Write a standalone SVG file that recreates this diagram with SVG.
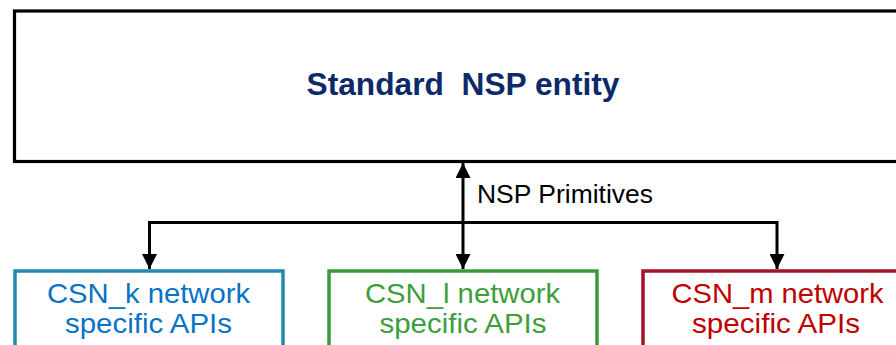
<svg xmlns="http://www.w3.org/2000/svg" width="896" height="345" viewBox="0 0 896 345">
<defs>
<style>
.lbl{font-family:"Liberation Sans",Arial,sans-serif;text-anchor:middle}
.conn{stroke:#000;stroke-width:3;fill:none}
</style>
<marker id="ah" viewBox="0 0 10 10" refX="10" refY="5" markerWidth="5" markerHeight="5" markerUnits="strokeWidth" orient="auto-start-reverse">
<path d="M0,0 L10,5 L0,10 z" fill="#000"/>
</marker>
</defs>
<rect width="896" height="345" fill="#fff"/>
<g id="nsp-entity">
<rect x="14.5" y="11" width="900" height="150.5" fill="#fff" stroke="#000" stroke-width="3.2"/>
<text class="lbl" x="463" y="95" font-size="30.5" font-weight="bold" fill="#0c2a6a" xml:space="preserve" textLength="313" lengthAdjust="spacingAndGlyphs">Standard  NSP entity</text>
</g>
<g id="connectors">
<line class="conn" x1="463" y1="163" x2="463" y2="269" marker-start="url(#ah)" marker-end="url(#ah)"/>
<polyline class="conn" points="149.5,269 149.5,222.5 777,222.5 777,269" marker-end="url(#ah)"/>
<line class="conn" x1="149.5" y1="222.5" x2="149.5" y2="269" marker-end="url(#ah)"/>
<text class="lbl" x="565" y="203" font-size="26" fill="#000" textLength="176" lengthAdjust="spacingAndGlyphs">NSP Primitives</text>
</g>
<g id="csn-k">
<rect x="15" y="271" width="268" height="100" fill="#fff" stroke="#1f8bb0" stroke-width="3.5"/>
<text class="lbl" x="148.5" y="303" font-size="28" fill="#0a72c4" textLength="203" lengthAdjust="spacingAndGlyphs">CSN_k network</text>
<text class="lbl" x="148.5" y="333" font-size="28" fill="#0a72c4" textLength="167" lengthAdjust="spacingAndGlyphs">specific APIs</text>
</g>
<g id="csn-l">
<rect x="329" y="271" width="268" height="100" fill="#fff" stroke="#3a9a3a" stroke-width="3.5"/>
<text class="lbl" x="462.5" y="303" font-size="28" fill="#3c9e3c" textLength="195" lengthAdjust="spacingAndGlyphs">CSN_l network</text>
<text class="lbl" x="463" y="333" font-size="28" fill="#3c9e3c" textLength="167" lengthAdjust="spacingAndGlyphs">specific APIs</text>
</g>
<g id="csn-m">
<rect x="643" y="271" width="268" height="100" fill="#fff" stroke="#a5122a" stroke-width="3.5"/>
<text class="lbl" x="777.5" y="303" font-size="28" fill="#c00000" textLength="212" lengthAdjust="spacingAndGlyphs">CSN_m network</text>
<text class="lbl" x="776" y="333" font-size="28" fill="#c00000" textLength="168" lengthAdjust="spacingAndGlyphs">specific APIs</text>
</g>
</svg>
